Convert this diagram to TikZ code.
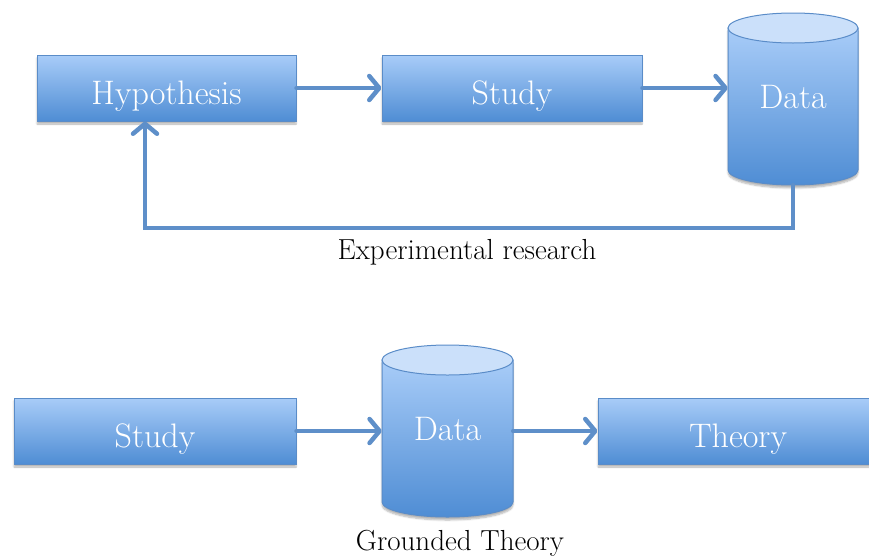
\documentclass[tikz,border=0pt]{standalone}
\usetikzlibrary{arrows.meta,shadows.blur}
\definecolor{boxtop}{HTML}{A8CCF8}
\definecolor{boxbot}{HTML}{4F8DD4}
\definecolor{boxline}{HTML}{5A8CC8}
\definecolor{captop}{HTML}{CBE0FA}
\definecolor{flow}{HTML}{5E8FC9}
\begin{document}
\begin{tikzpicture}[x=1pt,y=-1pt,
  softshadow/.style={blur shadow={shadow xshift=0pt,shadow yshift=-3pt,shadow opacity=30,shadow blur steps=6}},
  procbox/.style={rectangle,draw=boxline,line width=1pt,top color=boxtop,bottom color=boxbot,
    minimum height=66pt,inner sep=0pt,text height=42pt,text depth=10pt,text=white,
    font=\fontsize{34}{40}\selectfont,softshadow},
  storetext/.style={rectangle,inner sep=0pt,text height=32pt,text depth=14pt,text=white,
    font=\fontsize{34}{40}\selectfont},
  storebody/.style={draw=boxline,line width=1pt,top color=boxtop,bottom color=boxbot,softshadow},
  storecap/.style={draw=boxline,line width=1pt,fill=captop},
  flowline/.style={draw=flow,line width=4.5pt,line cap=round,
    -{Straight Barb[length=10pt,width=24pt,round]}},
  caption/.style={font=\fontsize{29}{34}\selectfont}]
\useasboundingbox (0,0) rectangle (869,557);

% ---- Experimental research ----
\node[procbox,minimum width=259pt] (hyp) at (166.5,88) {Hypothesis};
\node[procbox,minimum width=260pt] (study1) at (512,88) {Study};
% data store drawn as a cylinder
\path[storebody] (728,28) -- (728,170) arc[start angle=180,end angle=360,x radius=65pt,y radius=15pt] -- (858,28) -- cycle;
\path[storecap] (793,28) ellipse[x radius=65pt,y radius=15pt];
\node[storetext,minimum width=130pt,minimum height=172pt] (data1) at (793,99) {Data};
\coordinate (fbturn) at (145,228);

\draw[flowline] (hyp.east) -- (study1.west);
\draw[flowline] (study1.east) -- (study1.east -| data1.west);
\draw[flowline] (data1.south) |- (fbturn) -- (fbturn |- hyp.south);
\node[caption] (cap1) at (467,252) {Experimental research};

% ---- Grounded Theory ----
\node[procbox,minimum width=282pt] (study2) at (155,431) {Study};
\path[storebody] (382,360) -- (382,502) arc[start angle=180,end angle=360,x radius=65.5pt,y radius=15pt] -- (513,360) -- cycle;
\path[storecap] (447.5,360) ellipse[x radius=65.5pt,y radius=15pt];
\node[storetext,minimum width=131pt,minimum height=172pt] (data2) at (447.5,431) {Data};
\node[procbox,minimum width=280pt] (theory) at (738,431) {Theory};

\draw[flowline] (study2.east) -- (study2.east -| data2.west);
\draw[flowline] (data2.east) -- (data2.east -| theory.west);
\node[caption] (cap2) at (460,543) {Grounded Theory};
\end{tikzpicture}
\end{document}
